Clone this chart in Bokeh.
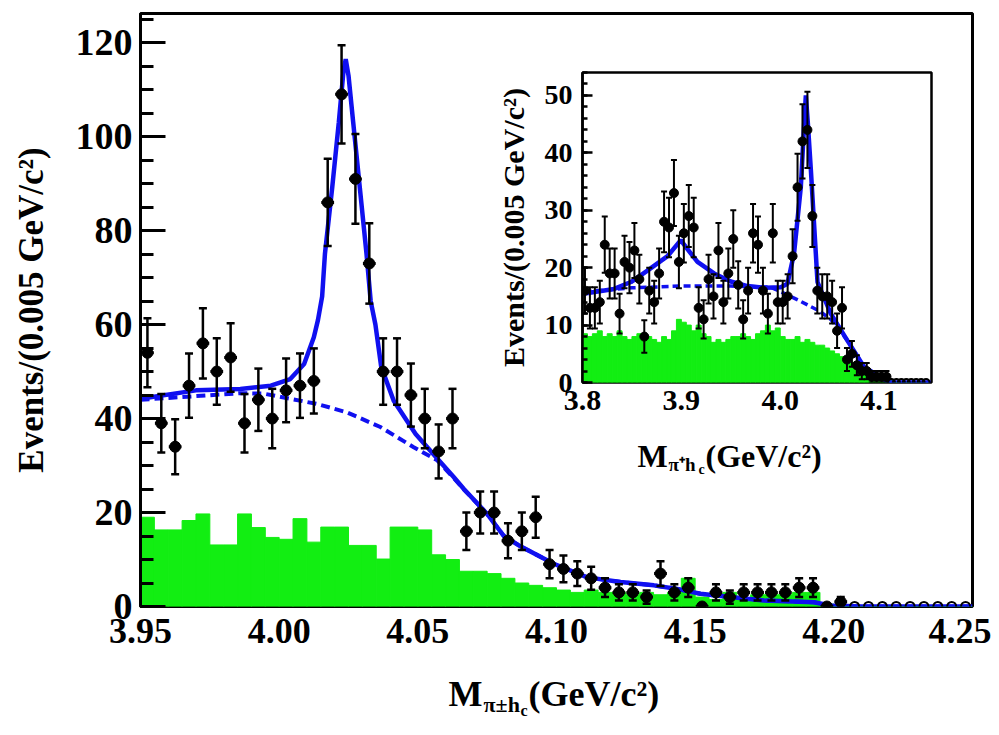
import numpy as np
from bokeh.plotting import figure
from bokeh.models import Range1d, Label, FixedTicker, NumeralTickFormatter
from bokeh.layouts import column
from bokeh.embed import file_html
from bokeh.resources import INLINE

FONT = "Liberation Serif"
BLUE = "#1010f0"
GREEN = "#12ee12"

# ---------------- main panel data ----------------
main_centers = [3.9525, 3.9575, 3.9625, 3.9675, 3.9725, 3.9775, 3.9825, 3.9875, 3.9925, 3.9975,
                4.0025, 4.0075, 4.0125, 4.0175, 4.0225, 4.0275, 4.0325, 4.0375, 4.0425, 4.0475,
                4.0525, 4.0575, 4.0625, 4.0675, 4.0725, 4.0775, 4.0825, 4.0875, 4.0925, 4.0975,
                4.1025, 4.1075, 4.1125, 4.1175, 4.1225, 4.1275, 4.1325, 4.1375, 4.1425, 4.1475,
                4.1525, 4.1575, 4.1625, 4.1675, 4.1725, 4.1775, 4.1825, 4.1875, 4.1925, 4.1975,
                4.2025]
main_counts = [54, 39, 34, 47, 56, 50, 53, 39, 44, 40,
               46, 47, 48, 86, 109, 91, 73, 50, 50, 45,
               40, 33, 40, 16, 20, 20, 14, 16, 19, 9,
               8, 7, 6, 4, 3, 3, 2, 7, 3, 4,
               0, 3, 2, 3, 3, 3, 3, 4, 4, 0,
               1]
main_empty = [4.2075, 4.2125, 4.2175, 4.2225, 4.2275, 4.2325, 4.2375, 4.2425, 4.2475]

main_bkg_edges = [round(3.95 + 0.005 * i, 4) for i in range(61)]
main_bkg = [19, 16.3, 16.3, 18.3, 19.7, 13.1, 13.1, 19.7, 16.8, 14.7,
            14.3, 18.7, 13.7, 16.9, 16.9, 13, 13, 10.1, 16.9, 16.9,
            16.3, 11, 10, 7.5, 7.5, 7, 6, 5, 4.5, 4,
            3.5, 3, 3.5, 3, 3, 2.5, 3, 2.5, 3, 6,
            2, 1.5, 3, 1.5, 2.5, 2.5, 2.5, 3, 3, 0.5,
            0, 0, 0, 0, 0, 0, 0, 0, 0, 0]

main_fit_x = [3.950, 3.970, 3.986, 3.997, 4.004, 4.009, 4.0125, 4.0140, 4.0155, 4.0165,
              4.0191, 4.0215, 4.0232, 4.0240, 4.0250, 4.0267, 4.0291, 4.0315, 4.0330, 4.0347,
              4.0368, 4.0413, 4.0492, 4.0570, 4.0630, 4.0666, 4.0750, 4.0810, 4.0870, 4.0990,
              4.1111, 4.1231, 4.1351, 4.1447, 4.1519, 4.1627, 4.1748, 4.1928, 4.1988, 4.2100,
              4.2500]
main_fit_y = [44.2, 46.0, 46.3, 47.0, 48.4, 51.6, 57.3, 61.0, 66.0, 75.0,
              89.0, 103.0, 114.0, 116.5, 113.0, 103.0, 89.0, 75.0, 65.0, 60.0,
              51.0, 43.8, 36.7, 31.5, 27.5, 25.0, 19.7, 15.0, 12.8, 9.1,
              6.2, 5.2, 4.5, 3.6, 2.7, 2.0, 1.3, 0.9, 0.2, 0.0,
              0.0]
main_bfit_x = [3.950, 3.986, 3.9945, 4.0137, 4.0245, 4.0365, 4.0485, 4.0570, 4.0630, 4.0666,
               4.0750, 4.0810, 4.0870, 4.0990, 4.1111, 4.1231, 4.1351, 4.1447, 4.1519, 4.1627,
               4.1748, 4.1928, 4.1988, 4.2100, 4.2500]
main_bfit_y = [44.0, 45.4, 45.3, 43.1, 41.3, 38.2, 33.9, 31.1, 27.3, 24.9,
               19.7, 15.0, 12.8, 9.1, 6.2, 5.2, 4.5, 3.6, 2.7, 2.0,
               1.3, 0.9, 0.2, 0.0, 0.0]
main_xticks = [3.95, 4.00, 4.05, 4.10, 4.15, 4.20, 4.25]
main_yticks = [0, 20, 40, 60, 80, 100, 120]

# ---------------- inset data ----------------
inset_edges = [round(3.80 + 0.005 * i, 4) for i in range(71)]
inset_centers = [round(3.8025 + 0.005 * i, 4) for i in range(62)]
inset_counts = [16, 13, 13, 14, 24, 19, 19, 12, 21, 20,
                23, 18, 8, 16, 14, 19, 28, 27, 33, 21,
                26, 29, 27, 13, 11, 18, 15, 23, 14, 19,
                25, 17, 11, 16, 26, 24, 16, 12, 26, 14,
                14, 15, 22, 34, 42, 44, 29, 16, 15, 15,
                14, 9, 13, 4, 5, 3, 2, 2, 1, 1,
                1, 1]
inset_empty = [4.1125, 4.1175, 4.1225, 4.1275, 4.1325, 4.1375, 4.1425, 4.1475]
inset_bkg = [8.5, 8, 8.5, 9, 8, 8.5, 8, 9, 8, 7.5,
             8, 8.5, 7.5, 8, 7.5, 7, 8, 7.5, 9, 11,
             10.5, 10, 9, 10, 8.5, 8, 7, 7.5, 7, 7.5,
             8, 8, 8.5, 8, 7.5, 8.5, 9, 10, 9, 9.5,
             8, 7.5, 7.5, 8, 7, 7.5, 7, 6.5, 6.5, 6,
             5.5, 5, 4.5, 4, 3.5, 3, 2.5, 2, 1.5, 1,
             1, 0.5, 0.5, 0, 0, 0, 0, 0, 0, 0]
inset_fit_x = [3.8023, 3.832, 3.849, 3.8657, 3.886, 3.8994, 3.905, 3.9163, 3.9331, 3.95,
               3.9669, 3.985, 4.0006, 4.0073, 4.014, 4.0208, 4.0245, 4.0259, 4.028, 4.031,
               4.0377, 4.0511, 4.068, 4.0848, 4.1017, 4.11, 4.152]
inset_fit_y = [15.5, 16.3, 17.5, 19.5, 22.0, 24.8, 23.5, 21.0, 19.0, 17.6,
               16.8, 16.5, 16.6, 17.2, 22.5, 34.0, 46.0, 50.0, 45.0, 37.0,
               17.5, 12.0, 7.3, 2.7, 0.9, 0.0, 0.0]
inset_bfit_x = [3.8023, 3.85, 3.9, 3.95, 3.99, 4.0006, 4.02, 4.04, 4.0511, 4.068,
                4.0848, 4.1017, 4.11, 4.152]
inset_bfit_y = [15.8, 16.5, 16.8, 16.8, 16.6, 15.8, 14.2, 12.4, 11.0, 7.3,
                2.7, 0.9, 0.0, 0.0]
inset_xticks = [3.8, 3.9, 4.0, 4.1]
inset_yticks = [0, 10, 20, 30, 40, 50]


def style_axes(fig, xticks, yticks, yminor, xfmt, xtick_px, ytick_px, major_in, minor_in, lw):
    fig.grid.visible = False
    fig.outline_line_color = "black"
    fig.outline_line_width = lw
    fig.frame_align = False
    fig.align = "start"
    fig.xaxis.ticker = FixedTicker(ticks=xticks)
    fig.xaxis.formatter = NumeralTickFormatter(format=xfmt)
    fig.xaxis.major_tick_in = 0
    fig.xaxis.major_tick_out = 0
    fig.xaxis.minor_tick_in = 0
    fig.xaxis.minor_tick_out = 0
    fig.xaxis.axis_line_color = None
    fig.yaxis.ticker = FixedTicker(ticks=yticks, minor_ticks=yminor)
    fig.yaxis.major_tick_in = major_in
    fig.yaxis.major_tick_out = 0
    fig.yaxis.minor_tick_in = minor_in
    fig.yaxis.minor_tick_out = 0
    fig.yaxis.major_tick_line_width = lw
    fig.yaxis.minor_tick_line_width = lw
    fig.yaxis.axis_line_width = lw
    fig.xaxis.major_label_text_font_size = xtick_px
    fig.yaxis.major_label_text_font_size = ytick_px
    for ax in (fig.xaxis, fig.yaxis):
        ax.major_label_text_font = FONT
        ax.major_label_text_font_style = "bold"
        ax.major_label_text_color = "black"
        ax.axis_label_text_font = FONT
        ax.axis_label_text_font_style = "bold"
        ax.axis_label_text_color = "black"


def draw_data(fig, centers, counts, empty, half_w, msize, lw, cap):
    c = np.array(centers, dtype=float)
    n = np.array(counts, dtype=float)
    err = np.sqrt(n)
    fig.segment(c, n - err, c, n + err, line_color="black", line_width=lw)
    fig.segment(c - half_w, n, c + half_w, n, line_color="black", line_width=lw + 0.5)
    fig.scatter(c, n + err, marker="dash", size=cap, line_color="black", line_width=lw)
    fig.scatter(c, n - err, marker="dash", size=cap, line_color="black", line_width=lw)
    fig.scatter(c, n, marker="circle", size=msize, fill_color="black", line_color="black")
    fig.scatter(empty, [0] * len(empty), marker="circle", size=msize - 2,
                fill_color=None, line_color="black", line_width=2)


# ---------------- main figure ----------------
MAIN_LEFT, MAIN_FW, MAIN_RIGHT = 140, 832, 19
MAIN_TOP, MAIN_FH, MAIN_BOTTOM = 13, 593, 121
main_w = MAIN_LEFT + MAIN_FW + MAIN_RIGHT
main_h = MAIN_TOP + MAIN_FH + MAIN_BOTTOM
p = figure(frame_width=MAIN_FW, frame_height=MAIN_FH,
           x_range=Range1d(3.95, 4.25), y_range=Range1d(0, 126.2),
           min_border_left=MAIN_LEFT, min_border_right=MAIN_RIGHT, min_border_top=MAIN_TOP,
           min_border_bottom=MAIN_BOTTOM,
           output_backend="svg", toolbar_location=None)
style_axes(p, main_xticks, main_yticks, list(range(0, 126, 5)), "0.00", "36px", "38px", 25, 13, 3)
p.xaxis.major_label_standoff = 12
p.yaxis.major_label_standoff = 8
p.yaxis.axis_label = "Events/(0.005 GeV/c²)"
p.yaxis.axis_label_text_font_size = "35px"
p.yaxis.axis_label_standoff = 22

p.quad(left=main_bkg_edges[:-1], right=main_bkg_edges[1:], bottom=0, top=main_bkg,
       fill_color=GREEN, line_color=GREEN, line_width=1)
p.line(main_bfit_x, main_bfit_y, line_color=BLUE, line_width=4, line_dash="9 5")
p.line(main_fit_x, main_fit_y, line_color=BLUE, line_width=4.5)
draw_data(p, main_centers, main_counts, main_empty, 0.0023, 11, 2.5, 8)

# ---------------- inset figure ----------------
IN_LEFT, IN_FW, IN_RIGHT = 92, 349, 6
IN_TOP, IN_FH, IN_BOTTOM = 10, 310, 95
INSET_X, INSET_Y = 490, 62
inset_h = IN_TOP + IN_FH + IN_BOTTOM
q = figure(frame_width=IN_FW, frame_height=IN_FH,
           x_range=Range1d(3.8, 4.153), y_range=Range1d(0, 54),
           min_border_left=IN_LEFT, min_border_right=IN_RIGHT, min_border_top=IN_TOP,
           min_border_bottom=IN_BOTTOM,
           output_backend="svg", toolbar_location=None)
style_axes(q, inset_xticks, inset_yticks, list(range(0, 55, 2)), "0.0", "30px", "28px", 10, 5, 2.5)
q.xaxis.major_label_standoff = 8
q.yaxis.major_label_standoff = 10
q.yaxis.axis_label = "Events/(0.005 GeV/c²)"
q.yaxis.axis_label_text_font_size = "30px"
q.yaxis.axis_label_standoff = 12

q.quad(left=inset_edges[:-1], right=inset_edges[1:], bottom=0, top=inset_bkg,
       fill_color=GREEN, line_color=GREEN, line_width=1)
q.line(inset_bfit_x, inset_bfit_y, line_color=BLUE, line_width=3.5, line_dash="7 4")
q.line(inset_fit_x, inset_fit_y, line_color=BLUE, line_width=4.5)
draw_data(q, inset_centers, inset_counts, inset_empty, 0.002, 9, 2, 6)
q.margin = (-(main_h - INSET_Y), 0, main_h - INSET_Y - inset_h, INSET_X)

# ---------------- transparent overlay for the x-axis titles (pixel coordinates) ----------------
ov = figure(width=main_w, height=main_h, x_range=Range1d(0, main_w), y_range=Range1d(main_h, 0),
            min_border=0, x_axis_type=None, y_axis_type=None,
            output_backend="svg", toolbar_location=None)
ov.grid.visible = False
ov.outline_line_color = None
ov.background_fill_color = None
ov.border_fill_color = None
ov.frame_align = False
ov.align = "start"
ov.margin = (-main_h, 0, 0, 0)


def title_parts(x, y, parts):
    for text, dx, dy, size in parts:
        ov.add_layout(Label(x=x + dx, y=y + dy, text=text, text_font=FONT,
                            text_font_style="bold", text_font_size=size, text_color="black",
                            text_baseline="alphabetic", text_align="left"))


title_parts(448, 693, [("M", 0, 0, "36px"), ("π±h", 35, 11, "22px"),
                       ("c", 72, 17, "16px"), ("(GeV/c²)", 80, 0, "36px")])
title_parts(637, 455, [("M", 0, 0, "32px"), ("π⁺h", 31, 9, "19px"),
                       ("c", 61, 14, "14px"), ("(GeV/c²)", 68, 0, "32px")])

layout = column(p, q, ov, spacing=0)
open("out.html", "w").write(file_html(layout, INLINE))
